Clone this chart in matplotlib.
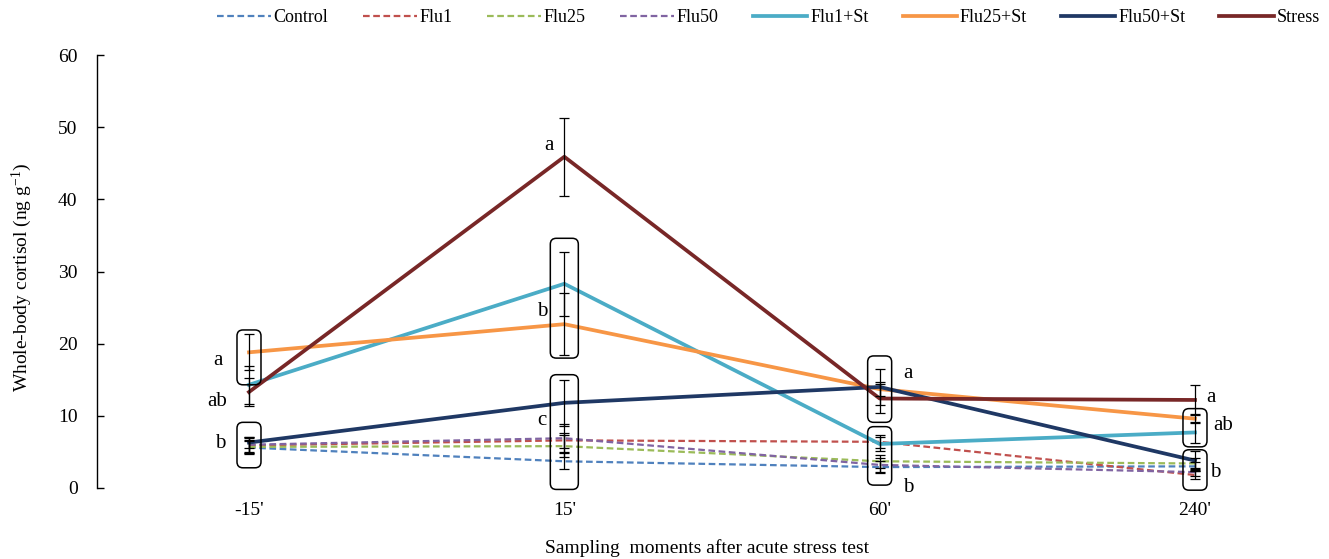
import matplotlib
matplotlib.use("Agg")
import matplotlib.pyplot as plt
from matplotlib.patches import FancyBboxPatch

plt.rcParams['font.family'] = ['Liberation Serif', 'DejaVu Serif']
plt.rcParams['mathtext.default'] = 'regular'

# --- data ---
times = ["-15'", "15'", "60'", "240'"]

control      = [5.6, 3.7, 2.9, 3.0]
control_err  = [0.9, 1.1, 0.8, 0.6]
flu1         = [5.9, 6.6, 6.4, 1.8]
flu1_err     = [1.0, 1.0, 0.9, 0.5]
flu25        = [5.7, 5.8, 3.7, 3.4]
flu25_err    = [0.9, 1.5, 0.9, 0.8]
flu50        = [6.0, 6.9, 3.2, 2.2]
flu50_err    = [1.0, 1.9, 1.0, 0.6]
flu1_st      = [14.3, 28.3, 6.1, 7.7]
flu1_st_err  = [2.6, 4.4, 1.0, 1.4]
flu25_st     = [18.8, 22.7, 13.7, 9.6]
flu25_st_err = [2.5, 4.3, 1.0, 0.6]
flu50_st     = [6.3, 11.8, 14.0, 3.8]
flu50_st_err = [0.8, 3.2, 2.5, 1.3]
stress       = [13.3, 45.9, 12.4, 12.2]
stress_err   = [2.0, 5.4, 2.0, 2.1]

# significance letters: (time index, y, text, x-shift in category units)
letters = [
    (0, 17.7, "a", -0.10), (0, 12.0, "ab", -0.10), (0, 6.1, "b", -0.09),
    (1, 47.5, "a", -0.05), (1, 24.5, "b", -0.07), (1, 9.3, "c", -0.07),
    (2, 15.8, "a", 0.09), (2, 0.1, "b", 0.09),
    (3, 12.5, "a", 0.05), (3, 8.7, "ab", 0.09), (3, 2.1, "b", 0.065),
]
# grouping boxes: (time index, y_low, y_high)
boxes = [
    (0, 14.3, 21.9), (0, 2.8, 9.1),
    (1, 18.0, 34.6), (1, -0.2, 15.7),
    (2, 9.1, 18.3), (2, 0.4, 8.5),
    (3, 5.7, 11.0), (3, -0.3, 5.3),
]

series = [
    ("Control", control, control_err, "#4F81BD", "dash"),
    ("Flu1", flu1, flu1_err, "#C0504D", "dash"),
    ("Flu25", flu25, flu25_err, "#9BBB59", "dash"),
    ("Flu50", flu50, flu50_err, "#8064A2", "dash"),
    ("Flu1+St", flu1_st, flu1_st_err, "#4BACC6", "solid"),
    ("Flu25+St", flu25_st, flu25_st_err, "#F79646", "solid"),
    ("Flu50+St", flu50_st, flu50_st_err, "#1F3864", "solid"),
    ("Stress", stress, stress_err, "#782727", "solid"),
]

W, H = 1329, 559
fig = plt.figure(figsize=(W / 100, H / 100), dpi=100)
ax = fig.add_axes([97 / W, 1 - 488 / H, (W - 97) / W, (488 - 55) / H])

x = list(range(len(times)))
handles = []
for name, vals, err, col, style in series:
    if style == "dash":
        ln, = ax.plot(x, vals, color=col, lw=1.6, ls=(0, (3, 1.6)), label=name, zorder=2)
    else:
        ln, = ax.plot(x, vals, color=col, lw=2.7, label=name, zorder=3)
    ax.errorbar(x, vals, yerr=err, fmt="none", ecolor="black", elinewidth=0.9,
                capsize=3.6, capthick=0.9, zorder=5)
    handles.append(ln)

ax.set_xlim(-0.482, 3.425)
ax.set_ylim(0, 60)

# rounded boxes around error bar groups
x_per_px = 1 / 315.3
y_per_px = 60 / (488 - 55)
for ti, lo, hi in boxes:
    w = (28 if ti == 1 else 24) * x_per_px
    p = FancyBboxPatch((ti - w / 2, lo), w, hi - lo,
                       boxstyle="round,pad=0,rounding_size=%f" % (6 * x_per_px),
                       mutation_aspect=y_per_px / x_per_px,
                       fc="none", ec="black", lw=1.1, zorder=6, clip_on=False)
    ax.add_patch(p)

for ti, yv, txt, dx in letters:
    ax.text(ti + dx, yv, txt, fontsize=15, ha="center", va="center", zorder=7)

ax.set_yticks(range(0, 61, 10))
ax.set_xticks(x)
ax.set_xticklabels(times)
ax.tick_params(axis="y", direction="in", length=5, width=1, labelsize=14, pad=14)
ax.tick_params(axis="x", length=0, labelsize=14, pad=10)
for s in ("top", "right", "bottom"):
    ax.spines[s].set_visible(False)
ax.spines["left"].set_linewidth(1)

fig.text(22 / W, 1 - 277 / H, r"Whole-body cortisol (ng g$^{-1}$)", rotation=90,
         ha="center", va="center", fontsize=14)
fig.text(707 / W, 1 - 548 / H, "Sampling  moments after acute stress test",
         ha="center", va="center", fontsize=14)

fig.legend(handles=handles, loc="center", bbox_to_anchor=(0.578, 1 - 18 / H),
           ncol=8, frameon=False, fontsize=13, handlelength=3.0,
           handletextpad=0.15, columnspacing=1.9)

fig.savefig("out.png", dpi=100)
